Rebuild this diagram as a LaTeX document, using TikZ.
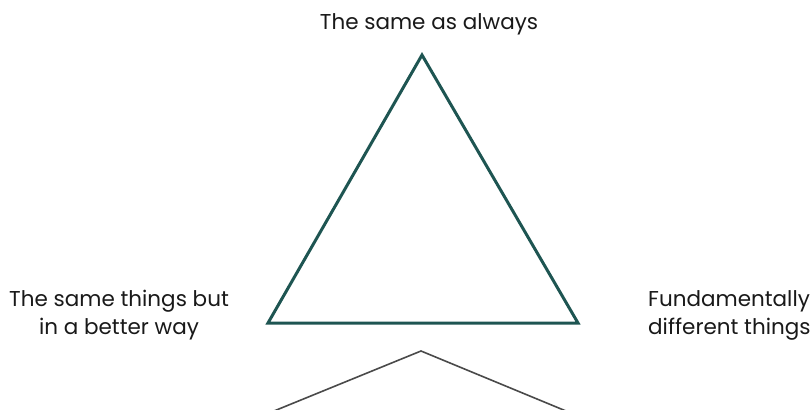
\documentclass[tikz,border=0pt]{standalone}
\usepackage{fontspec}
\setmainfont{Poppins}
\definecolor{teal1}{HTML}{1E5552}
\definecolor{gray1}{HTML}{4A4A4A}
\begin{document}
\begin{tikzpicture}[x=1pt,y=-1pt,
  lbl/.style={font=\fontsize{21.5}{28}\selectfont, text=black!90, inner sep=0pt},
  tri/.style={draw=teal1, line width=3pt, line join=miter},
  thin/.style={draw=gray1, line width=1.6pt}]
\useasboundingbox (0,0) rectangle (812,410);
\coordinate (top) at (422,55);
\coordinate (bl) at (268,323);
\coordinate (br) at (578,323);
\draw[tri] (top) -- (bl) -- (br) -- cycle;
\coordinate (apex) at (421,351);
\coordinate (le) at (274,411);
\coordinate (re) at (566,411);
\draw[thin] (le) -- (apex) -- (re);
\node[lbl] (t) at (429,24) {The same as always};
\node[lbl, align=center] (l) at (119,315) {The same things but\\in a better way};
\node[lbl, align=left, anchor=west] (r) at (648,315) {Fundamentally\\different things};
\end{tikzpicture}
\end{document}
